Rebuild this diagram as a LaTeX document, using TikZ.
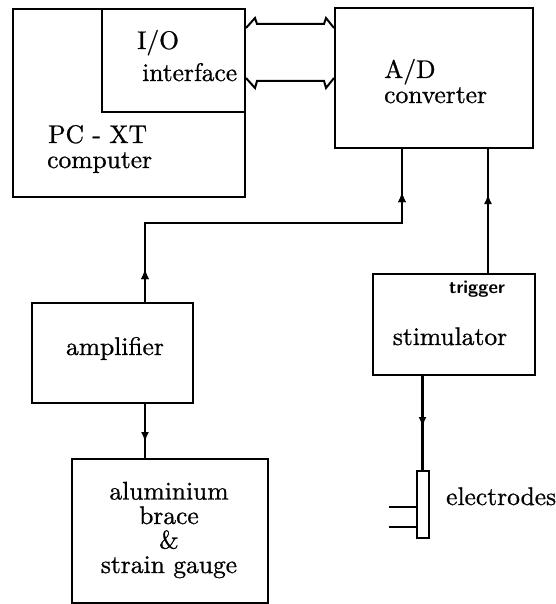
\documentclass[tikz,border=0pt]{standalone}
\usepackage{fontspec}
\newfontfamily\diagfont{lmroman10-regular}[Extension=.otf,FakeBold=0.8]
\usetikzlibrary{arrows.meta,decorations.markings,calc}
\begin{document}
\begin{tikzpicture}[x=1pt,y=-1pt,
  box/.style={draw,line width=2pt,inner sep=0pt},
  txt/.style={inner sep=0pt,font=\diagfont\fontsize{25.5}{24.5}\selectfont},
  conn/.style={line width=2.2pt},
  bus/.style={line width=2pt,line join=miter},
  arrowat/.style={postaction={decorate},decoration={markings,
     mark=at position #1 with {\arrow{Latex[length=10pt,width=8pt]}}}}]
\useasboundingbox (0,0) rectangle (555,604);

% boxes
\node[box,minimum width=232pt,minimum height=188pt] (pc) at (129,103) {};
\node[box,minimum width=143pt,minimum height=103pt] (io) at (173.5,60.5) {};
\node[box,minimum width=198pt,minimum height=140pt] (ad) at (434,78) {};
\node[box,minimum width=161pt,minimum height=100pt] (amp) at (112.5,353) {};
\node[box,minimum width=162pt,minimum height=101pt] (stim) at (454,324.5) {};
\node[box,minimum width=196pt,minimum height=144pt] (alu) at (170,531) {};
\node[box,minimum width=12pt,minimum height=67pt] (elec) at (422.5,504.5) {};

% texts
\node[txt,anchor=base west] (iot) at (137,49) {I/O};
\node[txt,anchor=base west] (ift) at (142,81) {interface};
\node[txt,anchor=base west] (pct) at (48,143) {PC - XT};
\node[txt,anchor=base west] (cot) at (47,168) {computer};
\node[txt,anchor=base west] (adt) at (384,78) {A/D};
\node[txt,anchor=base west] (cvt) at (384,103) {converter};
\node[txt,anchor=base] (ampt) at (115,355) {amplifier};
\node[txt,anchor=base] (stt) at (450,345) {stimulator};
\node[inner sep=0pt,anchor=base,font=\fontsize{18.5}{18.5}\selectfont\sffamily\bfseries] (trt) at (477,293) {trigger};
\node[txt,anchor=base west] (elt) at (446,505) {electrodes};
\node[txt,anchor=base,align=center] (alut) at (169,573) {aluminium\\brace\\\&\\strain gauge};

% bus between I/O and A/D
\draw[bus] ($(io.north east)+(0,20)$) -- ($(io.north east)+(9,10)$) -- ($(io.north east)+(11,16)$)
  -- ($(ad.north west)+(-10,17)$) -- ($(ad.north west)+(-8,11)$) -- ($(ad.north west)+(0,21)$);
\draw[bus] ($(io.north east)+(0,70)$) -- ($(io.north east)+(9,80)$) -- ($(io.north east)+(11,73)$)
  -- ($(ad.north west)+(-10,74)$) -- ($(ad.north west)+(-8,81)$) -- ($(ad.north west)+(0,71)$);

% connectors
\coordinate (adin1) at ($(ad.south west)+(68,0)$);
\coordinate (adin2) at ($(ad.south west)+(154,0)$);
\coordinate (ampup) at ($(amp.north west)+(114,0)$);
\coordinate (ampdn) at ($(amp.south west)+(114,0)$);

\draw[conn,arrowat=33pt,arrowat=367pt] (ampup) -- ++(0,-79) -| (adin1);
\draw[conn,arrowat=79pt] (adin2 |- stim.north) -- (adin2);
\draw[conn,arrowat=51pt] (stim.south -| elec.north) -- (elec.north);
\draw[conn,arrowat=38pt] (ampdn) -- (ampdn |- alu.north);

% electrode leads
\coordinate (w1) at (389,507);
\coordinate (w2) at (389,527);
\draw[conn] (w1) -- (w1 -| elec.west);
\draw[conn] (w2) -- (w2 -| elec.west);
\end{tikzpicture}
\end{document}
